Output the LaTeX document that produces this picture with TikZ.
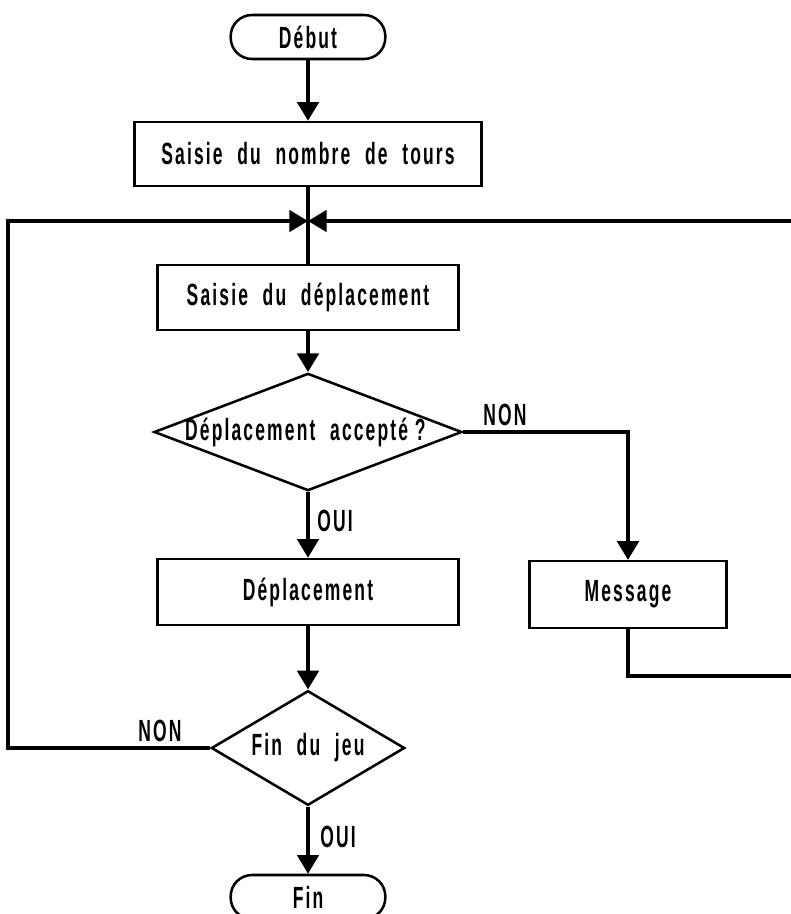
\documentclass[tikz,border=0pt]{standalone}
\usepackage{fontspec}
\setmainfont{Liberation Sans}[FakeStretch=0.57, LetterSpace=7, WordSpace=2.1, UprightFont=*-Bold]
\usetikzlibrary{arrows.meta,shapes.geometric}
\begin{document}
\begin{tikzpicture}[x=0.75pt,y=-0.75pt,
  every node/.style={font=\fontsize{23}{25}\selectfont},
  box/.style={draw,line width=1.9pt,rectangle,inner sep=0pt},
  term/.style={draw,line width=1.9pt,rectangle,rounded corners=16pt,inner sep=0pt,minimum width=116pt,minimum height=33pt},
  dia/.style={draw,line width=1.9pt,diamond,inner sep=0pt},
  conn/.style={line width=2.8pt},
  arr/.style={conn,-{Triangle[width=16pt,length=14pt]}},
  lab/.style={inner sep=0pt}
]
\useasboundingbox (0,0) rectangle (790,914);
% nodes
\node[term] (debut) at (308,37) {Début};
\node[box,minimum width=260pt,minimum height=48pt] (tours) at (308,154) {Saisie du nombre de tours};
\coordinate (J) at (308,221);
\node[box,minimum width=226pt,minimum height=49pt] (saisie) at (308,297.5) {Saisie du déplacement};
\node[dia,minimum width=231pt,minimum height=88pt] (acc) at (308,432) {};
\node[lab] (acct) at ([xshift=-2pt]acc.center) {Déplacement accepté\kern5pt?};
\node[box,minimum width=226pt,minimum height=49.5pt] (depl) at (308,592) {Déplacement};
\node[box,minimum width=148pt,minimum height=50pt] (msg) at (628,594.5) {Message};
\node[dia,minimum width=145pt,minimum height=86pt] (fj) at (308,748) {};
\node[lab] (fjt) at (fj.center) {Fin du jeu};
\node[term] (fin) at (308,897) {Fin};
% labels
\node[lab] (non1) at (505,415) {NON};
\node[lab] (oui1) at (335,521) {OUI};
\node[lab] (non2) at (160,731) {NON};
\node[lab] (oui2) at (338,837) {OUI};
% loop coordinates
\coordinate (L1) at (8,748);
\coordinate (L2) at (8,221);
\coordinate (R1) at (628,676);
\coordinate (R2) at (792,676);
\coordinate (R3) at (792,221);
% connectors
\draw[arr] (debut.south) -- (tours.north);
\draw[conn] (tours.south) -- (J) -- (saisie.north);
\draw[arr] (saisie.south) -- (acc.north);
\draw[arr] (acc.south) -- (depl.north);
\draw[arr] (depl.south) -- (fj.north);
\draw[arr] (fj.south) -- (fin.north);
\draw[arr] (acc.east) -| (msg.north);
\draw[conn] (msg.south) -- (R1) -- (R2);
\draw[arr] (R3) -- (J);
\draw[arr] (fj.west) -- (L1) -- (L2) -- (J);
\end{tikzpicture}
\end{document}
